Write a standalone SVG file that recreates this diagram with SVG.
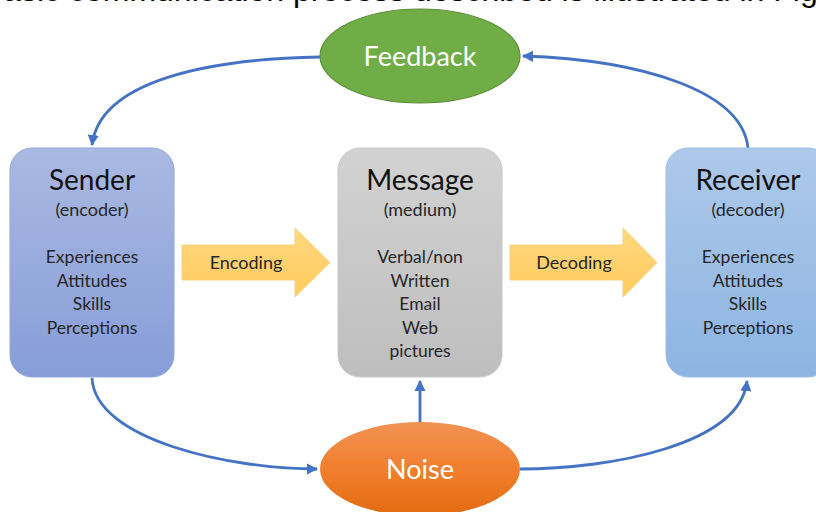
<svg xmlns="http://www.w3.org/2000/svg" width="816" height="512" viewBox="0 0 816 512">
  <defs>
    <linearGradient id="gSender" x1="0" y1="0" x2="0" y2="1">
      <stop offset="0" stop-color="#AAB9E2"/>
      <stop offset="1" stop-color="#879DD8"/>
    </linearGradient>
    <linearGradient id="gMessage" x1="0" y1="0" x2="0" y2="1">
      <stop offset="0" stop-color="#D2D2D2"/>
      <stop offset="1" stop-color="#BEBEBE"/>
    </linearGradient>
    <linearGradient id="gReceiver" x1="0" y1="0" x2="0" y2="1">
      <stop offset="0" stop-color="#ADC9EA"/>
      <stop offset="1" stop-color="#8DB4E2"/>
    </linearGradient>
    <linearGradient id="gArrow" x1="0" y1="0" x2="0" y2="1">
      <stop offset="0" stop-color="#FFD77E"/>
      <stop offset="1" stop-color="#FFCC5E"/>
    </linearGradient>
    <linearGradient id="gNoise" x1="0" y1="0" x2="0" y2="1">
      <stop offset="0" stop-color="#F19253"/>
      <stop offset="0.5" stop-color="#F27F2E"/>
      <stop offset="1" stop-color="#E26B10"/>
    </linearGradient>
    <marker id="arrow" viewBox="0 0 10 10" refX="9" refY="5" markerWidth="4" markerHeight="4" orient="auto" markerUnits="strokeWidth">
      <path d="M0,0 L10,5 L0,10 z" fill="#4472C4"/>
    </marker>
  </defs>
  <style>
    .conn { fill: none; stroke: #4472C4; stroke-width: 2.8; marker-end: url(#arrow); }
    .title { font-family: Lato, "Open Sans", sans-serif; font-size: 28px; fill: #111; text-anchor: middle; }
    .sub { font-family: Lato, "Open Sans", sans-serif; font-size: 18px; fill: #262626; text-anchor: middle; }
    .item { font-family: Lato, "Open Sans", sans-serif; font-size: 17.5px; fill: #262626; text-anchor: middle; }
    .oval { font-family: Lato, "Open Sans", sans-serif; font-size: 27px; fill: #fff; text-anchor: middle; }
    .head { font-family: "Liberation Sans", Arial, sans-serif; font-size: 32px; fill: #000; }
  </style>

  <rect width="816" height="512" fill="#fff"/>

  <!-- running text line above the figure -->
  <text class="head" x="-84" y="1">This basic communication process described is illustrated in Figure 1.</text>

  <!-- connectors -->
  <g id="connectors">
    <path class="conn" d="M320,57 C210,59 100,80 92,145"/>
    <path class="conn" d="M748,148 C742,90 640,60 523,56"/>
    <path class="conn" d="M92,378 C95,440 230,469 317,469"/>
    <path class="conn" d="M520,469 C610,469 740,445 747,381"/>
    <path class="conn" d="M420,422 L420,381"/>
  </g>

  <g id="feedback">
    <ellipse cx="420" cy="56" rx="100" ry="47" fill="#70AD47" stroke="#5B8F3A" stroke-width="1.2"/>
    <text class="oval" x="420" y="66">Feedback</text>
  </g>

  <g id="noise">
    <ellipse cx="420" cy="469" rx="100" ry="47" fill="url(#gNoise)"/>
    <text class="oval" x="420" y="479">Noise</text>
  </g>

  <g id="sender">
    <rect x="10" y="148" width="164" height="229" rx="22" fill="url(#gSender)" stroke="#8FA6DC" stroke-width="1"/>
    <text class="title" x="92" y="190">Sender</text>
    <text class="sub" x="92" y="216">(encoder)</text>
    <text class="item" x="92" y="263">Experiences</text>
    <text class="item" x="92" y="287">Attitudes</text>
    <text class="item" x="92" y="310">Skills</text>
    <text class="item" x="92" y="334">Perceptions</text>
  </g>

  <g id="encoding">
    <path d="M182,245 L295,245 L295,228 L330,262.5 L295,297 L295,280 L182,280 z" fill="url(#gArrow)" stroke="#F8D27E" stroke-width="1"/>
    <text class="sub" x="246" y="269">Encoding</text>
  </g>

  <g id="message">
    <rect x="338" y="148" width="164" height="229" rx="22" fill="url(#gMessage)" stroke="#C8C8C8" stroke-width="1"/>
    <text class="title" x="420" y="190">Message</text>
    <text class="sub" x="420" y="216">(medium)</text>
    <text class="item" x="420" y="263">Verbal/non</text>
    <text class="item" x="420" y="287">Written</text>
    <text class="item" x="420" y="310">Email</text>
    <text class="item" x="420" y="334">Web</text>
    <text class="item" x="420" y="357">pictures</text>
  </g>

  <g id="decoding">
    <path d="M510,245 L623,245 L623,228 L657,262.5 L623,297 L623,280 L510,280 z" fill="url(#gArrow)" stroke="#F8D27E" stroke-width="1"/>
    <text class="sub" x="574" y="269">Decoding</text>
  </g>

  <g id="receiver">
    <rect x="666" y="148" width="164" height="229" rx="22" fill="url(#gReceiver)" stroke="#9DBDE6" stroke-width="1"/>
    <text class="title" x="748" y="190">Receiver</text>
    <text class="sub" x="748" y="216">(decoder)</text>
    <text class="item" x="748" y="263">Experiences</text>
    <text class="item" x="748" y="287">Attitudes</text>
    <text class="item" x="748" y="310">Skills</text>
    <text class="item" x="748" y="334">Perceptions</text>
  </g>
</svg>
